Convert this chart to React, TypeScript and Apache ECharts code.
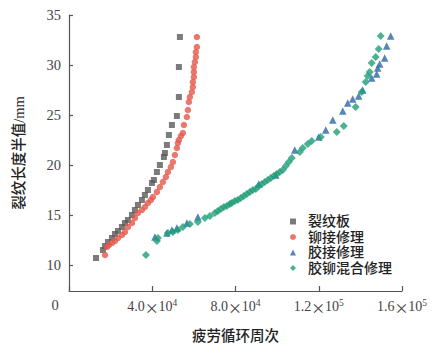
import React, { useEffect, useRef } from "react";
import * as echarts from "echarts";

const seriesNames = ["裂纹板", "铆接修理", "胶接修理", "胶铆混合修理"];

const crackedPlate: [number, number][] = [
  [12960, 10.7], [16320, 11.5], [17280, 11.9], [18720, 12.3], [20640, 12.7],
  [22080, 13.1], [23520, 13.4], [25440, 13.8], [26880, 14.2], [28320, 14.5],
  [30240, 15.0], [31680, 15.5], [33120, 16.0], [35040, 16.5], [36480, 17.0],
  [37920, 17.5], [39840, 18.2], [40800, 18.5], [42240, 19.3], [43680, 20.0],
  [45600, 20.8], [46080, 21.2], [47040, 22.0], [48000, 23.0], [49440, 24.0],
  [51840, 24.9], [52800, 26.8], [52800, 29.8], [53280, 32.8],
];

const rivetRepair: [number, number][] = [
  [17280, 11.0], [18240, 11.8], [19200, 12.0], [20640, 12.2], [22080, 12.4],
  [23520, 12.7], [25440, 13.0], [26880, 13.3], [28320, 13.8], [30240, 14.2],
  [31680, 14.7], [33120, 15.2], [35040, 15.5], [36480, 15.8], [37920, 16.2],
  [39360, 16.5], [40320, 16.8], [42240, 17.3], [43680, 17.8], [45120, 18.3],
  [46560, 18.8], [47520, 19.3], [48960, 19.8], [49920, 20.3], [50880, 21.0],
  [51840, 21.7], [52320, 22.2], [52800, 22.5], [53760, 22.9], [54720, 23.2],
  [55200, 24.0], [56640, 24.8], [57120, 25.5], [57600, 26.3], [58080, 26.8],
  [59040, 27.3], [59520, 27.8], [59520, 28.3], [60000, 28.8], [60000, 29.3],
  [60000, 29.8], [60480, 30.3], [60960, 30.8], [60960, 31.3], [61440, 31.8],
  [61440, 32.8],
];

const bondRepair: [number, number][] = [
  [41280, 12.8], [47040, 13.2], [49440, 13.5], [51840, 13.7], [56640, 14.2],
  [61920, 14.8], [91200, 18.1], [99360, 19.0], [108480, 21.5], [120000, 22.8],
  [123360, 23.5], [126720, 24.5], [131520, 25.4], [133920, 26.2], [136320, 26.6],
  [139200, 26.9], [141120, 27.5], [145440, 28.7], [147840, 29.1], [148320, 29.7],
  [149280, 30.1], [151680, 30.7], [152640, 31.9], [154560, 32.9],
];

const hybridRepair: [number, number][] = [
  [36960, 11.0], [42240, 12.4], [42720, 12.7], [47520, 13.2], [49920, 13.3],
  [52320, 13.5], [54720, 13.8], [58080, 14.1], [61920, 14.3], [65280, 14.7],
  [67680, 14.9], [70080, 15.2], [71520, 15.4], [72960, 15.6], [74400, 15.8],
  [75840, 15.9], [77280, 16.1], [78240, 16.2], [79680, 16.4], [81120, 16.5],
  [82560, 16.7], [84000, 16.9], [85440, 17.1], [86880, 17.3], [88320, 17.5],
  [89760, 17.6], [91200, 17.9], [92640, 18.1], [94080, 18.3], [95520, 18.5],
  [96960, 18.7], [98400, 18.9], [99840, 19.1], [101280, 19.3], [102720, 19.5],
  [104160, 19.9], [105600, 20.3], [107040, 20.7], [110880, 21.3], [112320, 21.7],
  [114720, 22.1], [116640, 22.4], [120960, 22.8], [128640, 23.3], [132000, 23.9],
  [137760, 25.8], [140640, 27.3], [142560, 28.3], [143520, 28.9], [144480, 29.3],
  [145440, 30.2], [147360, 30.8], [148800, 31.6], [149760, 32.9],
];

const yTicks = [10, 15, 20, 25, 30, 35];
const xTickLabels: Record<number, string> = {
  40000: "{n|4.0}{x|×}{n|10}{s|4}",
  80000: "{n|8.0}{x|×}{n|10}{s|4}",
  120000: "{n|1.2}{x|×}{n|10}{s|5}",
  160000: "{n|1.6}{x|×}{n|10}{s|5}",
};

const colors = ["#5a5a5a", "#e4584b", "#2c67a8", "#1f9d78"];
const serif = "'Liberation Serif', 'Noto Sans CJK SC', serif";

export default function App() {
  const ref = useRef<HTMLDivElement>(null);
  useEffect(() => {
    if (!ref.current) return;
    const chart = echarts.init(ref.current, undefined, { renderer: "svg" });
    const axisColor = "#555";
    chart.setOption({
      animation: false,
      backgroundColor: "#fff",
      color: colors,
      grid: { left: 69, right: 39, top: 15, bottom: 64, outerBoundsMode: "none" },
      legend: {
        orient: "vertical",
        left: 290,
        top: 214,
        itemWidth: 6,
        itemHeight: 6,
        itemGap: 0.5,
        padding: 0,
        data: seriesNames,
        textStyle: {
          fontFamily: serif,
          fontSize: 14,
          fontWeight: 500,
          lineHeight: 15,
          color: "#222",
          padding: [0, 0, 0, 7],
        },
      },
      xAxis: {
        type: "value",
        min: 0,
        max: 160000,
        interval: 40000,
        name: "疲劳循环周次",
        nameLocation: "middle",
        nameGap: 38,
        nameTextStyle: { fontFamily: serif, fontSize: 14.5, fontWeight: 500, color: "#222" },
        splitLine: { show: false },
        axisLine: { lineStyle: { color: axisColor, width: 1.2 } },
        axisTick: { inside: true, length: 5, lineStyle: { color: axisColor, width: 1.2 } },
        axisLabel: {
          margin: 7,
          formatter: (v: number) => xTickLabels[v] || "",
          rich: {
            n: { fontFamily: serif, fontSize: 14, color: "#444" },
            x: { fontFamily: "'Noto Sans CJK SC'", fontSize: 14, color: "#444" },
            s: { fontFamily: serif, fontSize: 9.5, color: "#444", padding: [0, 0, 8, 0] },
          },
        },
      },
      yAxis: {
        type: "value",
        min: 7.4,
        max: 35,
        name: "裂纹长度半值/mm",
        nameLocation: "middle",
        nameGap: 43,
        nameTextStyle: { fontFamily: serif, fontSize: 14.5, fontWeight: 500, color: "#222" },
        splitLine: { show: false },
        axisLine: { lineStyle: { color: axisColor, width: 1.2 } },
        axisTick: {
          inside: true,
          length: 4,
          customValues: yTicks,
          lineStyle: { color: axisColor, width: 1.2 },
        },
        axisLabel: {
          margin: 8,
          customValues: yTicks,
          fontFamily: serif,
          fontSize: 14.5,
          color: "#444",
        },
      },
      graphic: [
        {
          type: "text",
          x: 55,
          y: 305,
          style: {
            text: "0",
            fontFamily: serif,
            fontSize: 14.5,
            fill: "#444",
            align: "center",
            verticalAlign: "middle",
          },
        },
      ],
      series: [
        { name: seriesNames[0], type: "scatter", symbol: "rect", symbolSize: 6, data: crackedPlate },
        { name: seriesNames[1], type: "scatter", symbol: "circle", symbolSize: 6.5, data: rivetRepair },
        { name: seriesNames[2], type: "scatter", symbol: "triangle", symbolSize: 7.5, data: bondRepair },
        { name: seriesNames[3], type: "scatter", symbol: "diamond", symbolSize: 8, data: hybridRepair },
      ],
    });
    return () => chart.dispose();
  }, []);
  return (
    <div
      ref={ref}
      style={{ position: "fixed", left: 0, top: 0, width: 441, height: 355 }}
    />
  );
}
